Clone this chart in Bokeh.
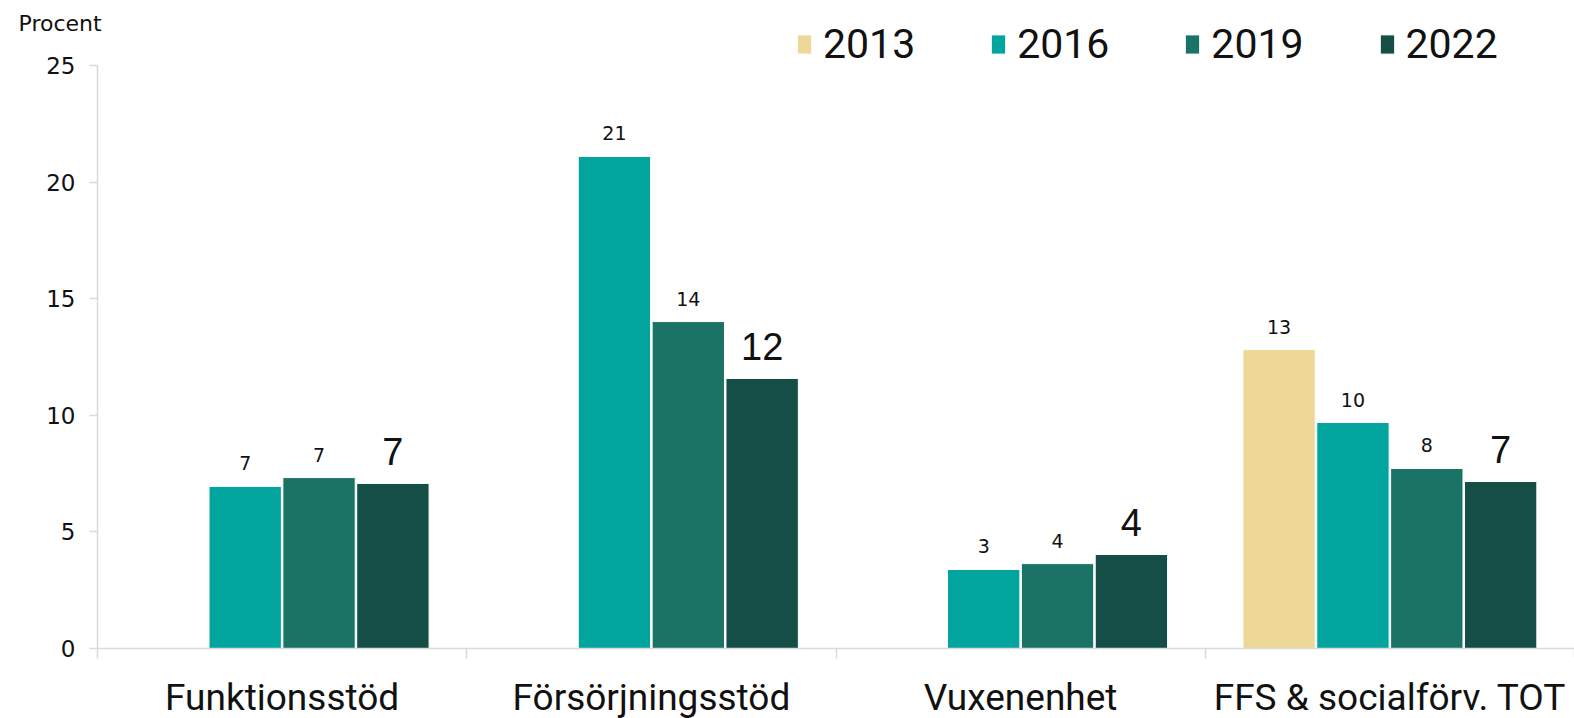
from bokeh.plotting import figure
from bokeh.models import (ColumnDataSource, Range1d, FixedTicker, Legend, LegendItem, Label)
from bokeh.embed import file_html
from bokeh.resources import INLINE
from bokeh.core.properties import value
import math

categories = ["Funktionsstöd", "Försörjningsstöd", "Vuxenenhet", "FFS & socialförv. TOT"]
years = ["2013", "2016", "2019", "2022"]
v2013 = [float("nan"), float("nan"), float("nan"), 12.82]
v2016 = [6.95, 21.10, 3.39, 9.69]
v2019 = [7.33, 14.02, 3.64, 7.72]
v2022 = [7.08, 11.58, 4.03, 7.16]
y_ticks = [0, 5, 10, 15, 20, 25]
y_label = "Procent"

series = [v2013, v2016, v2019, v2022]
colors = ["#EDD897", "#02A59D", "#1B7366", "#154E46"]
offsets = [-0.3, -0.1, 0.1, 0.3]
ROB = "Roboto"
SANS = "Liberation Sans"
DJ = "DejaVu Sans"

W, H = 1574, 718
AX_X, AX_TOP, AX_BOT = 97, 65, 648          # pixel layout of the axes
CAT_W = (W - AX_X) / 4.0
YMAX = 25
PX_PER_UNIT = (AX_BOT - AX_TOP) / YMAX
x_start = -AX_X / CAT_W
y_end = AX_BOT / PX_PER_UNIT
y_start = -(H - AX_BOT) / PX_PER_UNIT

p = figure(width=W, height=H, output_backend="svg", toolbar_location=None,
           x_range=Range1d(x_start, 4), y_range=Range1d(y_start, y_end),
           min_border_left=0, min_border_right=0, min_border_top=0, min_border_bottom=0)
p.outline_line_color = None
p.xgrid.grid_line_color = None
p.ygrid.grid_line_color = None
p.background_fill_color = "white"

renderers = []
for vals, col, off, yr in zip(series, colors, offsets, years):
    xs, ys, labs = [], [], []
    for i, v in enumerate(vals):
        if not math.isnan(v):
            xs.append(i + 0.5 + off)
            ys.append(v)
            labs.append(str(int(round(v))))
    src = ColumnDataSource(dict(x=xs, top=ys, lab=labs))
    r = p.vbar(x="x", top="top", width=0.196, bottom=0, source=src,
               fill_color=col, line_color="white", line_width=1)
    renderers.append((yr, r))
    big = (yr == "2022")
    p.text(x="x", y="top", text="lab", source=src,
           text_font=value(SANS if big else DJ), text_font_size="38px" if big else "19px",
           text_align="center", text_baseline="middle",
           y_offset=-32 if big else -23, text_color="#111111")

# y axis (placed at x = 0, line limited to 0..25)
ya = p.yaxis[0]
ya.fixed_location = 0
ya.bounds = (0, YMAX)
ya.ticker = FixedTicker(ticks=y_ticks)
ya.axis_line_color = "#D9D9D9"
ya.axis_line_width = 1.5
ya.major_tick_line_color = "#D9D9D9"
ya.major_tick_line_width = 1.5
ya.major_tick_out = 8
ya.major_tick_in = 0
ya.minor_tick_line_color = None
ya.major_label_text_font = DJ
ya.major_label_text_font_size = "23px"
ya.major_label_text_color = "#111111"
ya.major_label_standoff = 14

# x axis (placed at y = 0)
xa = p.xaxis[0]
xa.fixed_location = 0
xa.bounds = (0, 4)
xa.ticker = FixedTicker(ticks=[i + 0.5 for i in range(len(categories))],
                        minor_ticks=list(range(len(categories) + 1)))
xa.major_label_overrides = {i + 0.5: c for i, c in enumerate(categories)}
xa.axis_line_color = "#D9D9D9"
xa.axis_line_width = 1.5
xa.major_tick_line_color = None
xa.major_tick_out = 0
xa.major_tick_in = 0
xa.minor_tick_line_color = "#D9D9D9"
xa.minor_tick_line_width = 1.5
xa.minor_tick_out = 10
xa.minor_tick_in = 0
xa.major_label_text_font = ROB
xa.major_label_text_font_size = "37px"
xa.major_label_text_color = "#111111"
xa.major_label_standoff = 17

legend = Legend(items=[LegendItem(label=yr, renderers=[r]) for yr, r in renderers],
                orientation="horizontal", location=(795, H - AX_BOT + 580),
                label_text_font=ROB, label_text_font_size="41px",
                label_text_color="#111111",
                glyph_width=18, glyph_height=24, label_standoff=10, spacing=74,
                padding=0, margin=0, border_line_color=None,
                background_fill_alpha=0)
p.add_layout(legend, "center")

p.add_layout(Label(x=18, y=H - 23, x_units="screen", y_units="screen", text=y_label,
                   text_font=DJ, text_font_size="22px", text_color="#111111",
                   text_baseline="middle"))

open("out.html", "w").write(file_html(p, INLINE))
